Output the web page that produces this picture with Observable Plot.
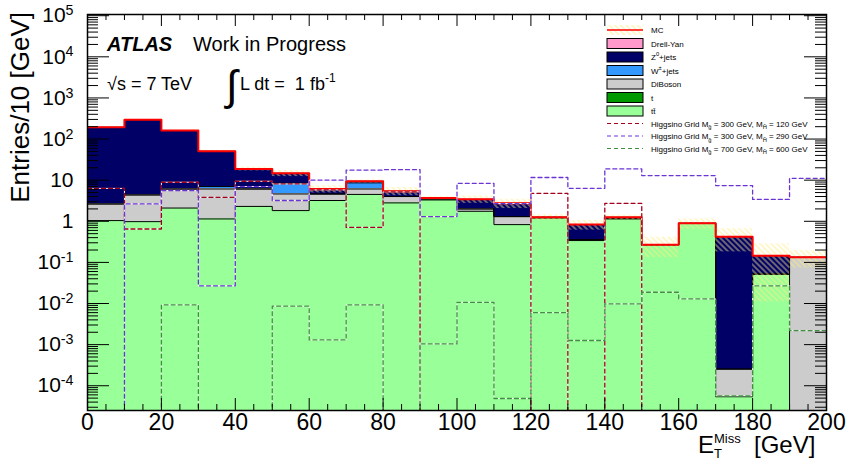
<!DOCTYPE html>
<html>
<head>
<meta charset="utf-8">
<script src="https://cdn.jsdelivr.net/npm/d3@7"></script>
<script src="https://cdn.jsdelivr.net/npm/@observablehq/plot@0.6"></script>
<style>
html, body { margin: 0; padding: 0; background: #fff; }
#chart { width: 846px; height: 462px; }
</style>
</head>
<body>
<div id="chart"></div>
<script>
// ---------------- data ----------------
const binLow = [0, 10, 20, 30, 40, 50, 60, 70, 80, 90, 100, 110, 120, 130, 140, 150, 160, 170, 180, 190];
const binWidth = 10;

// stacked backgrounds (Entries / 10 GeV)
const ttbar     = [1.04, 0.98, 2.1, 1.14, 2.3, 1.82, 3.2, 4.5, 2.8, 3.3, 1.75, 0.83, 1.2, 0.34, 1.14, 0.27, 0.89, 5.4e-5, 0.052, 0];
const singleTop = [0, 0, 0, 0, 0, 0, 0, 0, 0, 0, 0, 0, 0, 0, 0, 0, 0, 0, 0, 0];
const diboson   = [1.6, 3.4, 4.0, 4.96, 3.8, 2.8, 1.4, 1.6, 1.2, 0.2, 0.25, 0.47, 0.05, 0.02, 0.05, 0, 0, 2.0e-4, 0, 0.133];
const wjets     = [0, 0, 0, 0.9, 0, 3.8, 0, 2.5, 0, 0, 0, 0, 0, 0, 0, 0, 0, 0, 0, 0];
const zjets     = [191, 289, 155, 43.5, 12.7, 6.3, 1.5, 0.8, 1.4, 0.2, 1.43, 1.44, 0, 0.47, 0.06, 0, 0, 0.42, 0.094, 0];
const drellYan  = [0, 0, 0, 0, 0, 0, 0, 0, 0, 0, 0, 0, 0, 0, 0, 0, 0, 0, 0, 0];
const mcError   = [5, 8, 6, 3, 2, 2.5, 1.2, 0.8, 1.2, 0.3, 0.7, 0.7, 0.2, 0.22, 0.15, 0.14, 0.25, 0.24, 0.135, 0.06];

// signal samples (Higgsino grid)
const sig300_120 = [6.3, 0.65, 8.9, 3.8, 9.4, 8.1, 5.8, 0.71, 5.2, 0, 0, 0, 4.8, 0, 2.74, 0, 0, 0, 0, 0];
const sig300_290 = [0, 2.65, 5.6, 0.027, 7.0, 3.2, 10.0, 17.5, 18.0, 1.3, 8.4, 2.7, 11.6, 6.35, 18.8, 12.9, 12.9, 7.4, 3.4, 11.1];
const sig700_600 = [0, 0, 0.0093, 0, 0, 0.0086, 0.0013, 0.0093, 0, 0.00104, 0.0107, 4.9e-5, 0.006, 0.00126, 0.0098, 0.0188, 0.013, 5.7e-5, 0.027, 0.0022];

// axis ticks
const xTickValues = [0, 20, 40, 60, 80, 100, 120, 140, 160, 180, 200];
const xMinorTicks = [5, 10, 15, 25, 30, 35, 45, 50, 55, 65, 70, 75, 85, 90, 95, 105, 110, 115, 125, 130, 135, 145, 150, 155, 165, 170, 175, 185, 190, 195];
const yTickValues = [1e-4, 1e-3, 1e-2, 1e-1, 1, 10, 1e2, 1e3, 1e4, 1e5];
const yTickLabels = ["10^-4", "10^-3", "10^-2", "10^-1", "1", "10", "10^2", "10^3", "10^4", "10^5"];
const yMinorMultipliers = [2, 3, 4, 5, 6, 7, 8, 9];

// ---------------- layout / style ----------------
const W = 846, H = 462;
const mL = 87, mR = 20, mT = 14, mB = 52;
const FW = W - mL - mR, FH = H - mT - mB;
const yDomain = [2.5e-5, 1.07e5];
const FLOOR = 1e-8;
const FONT = "'Liberation Sans', Arial, Helvetica, sans-serif";
const HATCH_KEY = "#fffff0";

const colors = {
  ttbar: "#99ff99", t: "#009900", diboson: "#cccccc", w: "#3399ff", z: "#000066", dy: "#ff99cc",
  mc: "#ff0000", sigA: "#a3001e", sigB: "#6b35d6", sigC: "#3f8f3f"
};

function steps(vals) {
  const pts = binLow.map((x, i) => ({x, y: vals[i] > 0 ? vals[i] : FLOOR}));
  pts.push({x: binLow[binLow.length - 1] + binWidth, y: pts[pts.length - 1].y});
  return pts;
}

const components = [
  {vals: ttbar, fill: colors.ttbar},
  {vals: singleTop, fill: colors.t},
  {vals: diboson, fill: colors.diboson},
  {vals: wjets, fill: colors.w},
  {vals: zjets, fill: colors.z},
  {vals: drellYan, fill: colors.dy}
];

let cum = binLow.map(() => 0);
const stackMarks = [], outlineMarks = [];
for (const c of components) {
  const rows = [], tops = [];
  binLow.forEach((x, i) => {
    const lo = cum[i], hi = cum[i] + c.vals[i];
    if (c.vals[i] > 0) rows.push({x1: x, x2: x + binWidth, y1: lo > 0 ? lo : FLOOR, y2: hi});
    tops.push(hi);
    cum[i] = hi;
  });
  stackMarks.push(Plot.rect(rows, {x1: "x1", x2: "x2", y1: "y1", y2: "y2", fill: c.fill, clip: true, shapeRendering: "crispEdges"}));
  if (c.vals.some(v => v > 0)) {
    outlineMarks.push(Plot.line(steps(tops), {x: "x", y: "y", curve: "step-after", stroke: "black", strokeWidth: 1, clip: true}));
  }
}
const total = cum.slice();
const bandRows = binLow.map((x, i) => ({
  x1: x, x2: x + binWidth,
  y1: Math.max(total[i] - mcError[i], FLOOR),
  y2: total[i] + mcError[i]
}));

const yMinorTicks = [];
for (let k = -5; k <= 5; k++) for (const m of yMinorMultipliers) {
  const v = m * Math.pow(10, k);
  if (v > yDomain[0] && v < yDomain[1]) yMinorTicks.push(v);
}

function signalMarks(vals, color) {
  return [
    Plot.line(steps(vals), {x: "x", y: "y", curve: "step-after", stroke: "white", strokeWidth: 1, clip: true}),
    Plot.line(steps(vals), {x: "x", y: "y", curve: "step-after", stroke: color, strokeWidth: 1.3, strokeDasharray: "4,3", clip: true})
  ];
}

const plot = Plot.plot({
  width: W, height: H,
  marginLeft: mL, marginRight: mR, marginTop: mT, marginBottom: mB,
  style: {fontFamily: FONT, background: "white", color: "black", overflow: "visible"},
  x: {domain: [0, 200]},
  y: {type: "log", domain: yDomain},
  marks: [
    ...stackMarks,
    ...outlineMarks,
    Plot.rect(bandRows, {x1: "x1", x2: "x2", y1: "y1", y2: "y2", fill: HATCH_KEY, clip: true}),
    Plot.line(steps(total), {x: "x", y: "y", curve: "step-after", stroke: colors.mc, strokeWidth: 2, clip: true}),
    ...signalMarks(sig300_120, colors.sigA),
    ...signalMarks(sig300_290, colors.sigB),
    ...signalMarks(sig700_600, colors.sigC),
    // ROOT-style inward ticks
    Plot.ruleX(xTickValues, {insetTop: FH - 12, stroke: "black", strokeWidth: 1}),
    Plot.ruleX(xMinorTicks, {insetTop: FH - 6, stroke: "black", strokeWidth: 1}),
    Plot.ruleX(xTickValues, {insetBottom: FH - 12, stroke: "black", strokeWidth: 1}),
    Plot.ruleX(xMinorTicks, {insetBottom: FH - 6, stroke: "black", strokeWidth: 1}),
    Plot.ruleY(yTickValues, {insetRight: FW - 22, stroke: "black", strokeWidth: 1}),
    Plot.ruleY(yMinorTicks, {insetRight: FW - 11, stroke: "black", strokeWidth: 1}),
    Plot.ruleY(yTickValues, {insetLeft: FW - 22, stroke: "black", strokeWidth: 1}),
    Plot.ruleY(yMinorTicks, {insetLeft: FW - 11, stroke: "black", strokeWidth: 1}),
    Plot.frame({stroke: "black", strokeWidth: 1.5}),
    Plot.axisX(xTickValues, {tickSize: 0, tickPadding: 3, fontSize: 23, label: null}),
    Plot.axisY(yTickValues, {tickSize: 0, tickPadding: 14, fontSize: 21, label: null,
      tickFormat: v => yTickLabels[yTickValues.indexOf(v)]})
  ]
});

document.getElementById("chart").appendChild(plot);

// ---------------- post-processing ----------------
const svg = d3.select(plot);

// hatch pattern for MC uncertainty band
const defs = svg.insert("defs", ":first-child");
const pat = defs.append("pattern").attr("id", "mcHatch").attr("patternUnits", "userSpaceOnUse")
  .attr("width", 4).attr("height", 4).attr("patternTransform", "rotate(-45)");
pat.append("line").attr("x1", 1).attr("y1", 0).attr("x2", 1).attr("y2", 4)
  .attr("stroke", "#ffec80").attr("stroke-width", 1).attr("stroke-opacity", 0.85);
svg.selectAll(`[fill="${HATCH_KEY}"]`).attr("fill", "url(#mcHatch)");

// superscript y tick labels
svg.selectAll('[aria-label="y-axis tick label"] text').each(function () {
  const el = d3.select(this);
  const t = this.textContent;
  const m = /^10\^(-?\d+)$/.exec(t);
  if (m) {
    el.text(null);
    el.append("tspan").text("10");
    el.append("tspan").attr("dy", "-0.5em").attr("font-size", "0.68em").text(m[1]);
  }
});

// helper for rich text
function rich(parent, x, y, segs, opts = {}) {
  const base = opts.size || 8;
  const t = parent.append("text").attr("x", x).attr("y", y)
    .attr("font-family", FONT).attr("font-size", base)
    .attr("fill", "black").attr("text-anchor", opts.anchor || "start");
  let shift = 0;
  for (const s of segs) {
    const sp = t.append("tspan").text(s.t);
    const target = s.sup ? -0.45 : s.sub ? 0.35 : 0;
    const fs = (s.sup || s.sub) ? base * 0.72 : base;
    sp.attr("font-size", fs);
    const dyPx = target * base - shift;
    if (dyPx !== 0) sp.attr("dy", dyPx);
    shift = target * base;
  }
  return t;
}

const ann = svg.append("g").attr("class", "annotations").attr("text-anchor", "start");

// axis titles
ann.append("text").attr("transform", "translate(29,12) rotate(-90)").attr("text-anchor", "end")
  .attr("font-family", FONT).attr("font-size", 26).text("Entries/10 [GeV]");

const xt = ann.append("text").attr("x", 698).attr("y", 453).attr("font-family", FONT)
  .attr("font-size", 24).attr("text-anchor", "start");
xt.append("tspan").text("E");
xt.append("tspan").attr("font-size", 13).attr("dy", -10).text("Miss");
xt.append("tspan").attr("font-size", 13).attr("x", 714).attr("dy", 15).text("T");
xt.append("tspan").attr("x", 754).attr("dy", -5).text("[GeV]");

// ATLAS label
const at = ann.append("text").attr("x", 107).attr("y", 51).attr("font-family", FONT)
  .attr("font-size", 20).attr("text-anchor", "start");
at.append("tspan").attr("font-weight", "bold").attr("font-style", "italic").text("ATLAS");
at.append("tspan").attr("x", 193).text("Work in Progress");

ann.append("text").attr("x", 107).attr("y", 90).attr("font-family", FONT).attr("font-size", 18)
  .attr("text-anchor", "start").text("\u221As = 7 TeV");
ann.append("text").attr("x", 226).attr("y", 100).attr("font-family", FONT).attr("font-size", 42)
  .attr("text-anchor", "start").text("\u222B");
const lum = ann.append("text").attr("x", 240).attr("y", 90).attr("font-family", FONT)
  .attr("font-size", 18).attr("text-anchor", "start");
lum.append("tspan").text("L dt =  1 fb");
lum.append("tspan").attr("font-size", 12).attr("dy", -8).text("-1");

// legend
const lg = svg.append("g").attr("class", "legend").attr("text-anchor", "start");
const symX = 607, symW = 36, textX = 651;
const legendRows = [
  {y: 30, kind: "mc", segs: [{t: "MC"}]},
  {y: 43.5, kind: "box", fill: colors.dy, segs: [{t: "Drell-Yan"}]},
  {y: 57, kind: "box", fill: colors.z, segs: [{t: "Z"}, {t: "0", sup: true}, {t: "+jets"}]},
  {y: 70.5, kind: "box", fill: colors.w, segs: [{t: "W"}, {t: "\u00B1", sup: true}, {t: "+jets"}]},
  {y: 84, kind: "box", fill: colors.diboson, segs: [{t: "DiBoson"}]},
  {y: 97.5, kind: "box", fill: colors.t, segs: [{t: "t"}]},
  {y: 111, kind: "box", fill: colors.ttbar, segs: [{t: "tt\u0304"}]},
  {y: 123.5, kind: "line", stroke: colors.sigA, segs: [{t: "Higgsino Grid M"}, {t: "g\u0303", sub: true}, {t: " = 300 GeV, M"}, {t: "H\u0303", sub: true}, {t: " = 120 GeV"}]},
  {y: 136, kind: "line", stroke: colors.sigB, segs: [{t: "Higgsino Grid M"}, {t: "g\u0303", sub: true}, {t: " = 300 GeV, M"}, {t: "H\u0303", sub: true}, {t: " = 290 GeV"}]},
  {y: 148.5, kind: "line", stroke: colors.sigC, segs: [{t: "Higgsino Grid M"}, {t: "g\u0303", sub: true}, {t: " = 700 GeV, M"}, {t: "H\u0303", sub: true}, {t: " = 600 GeV"}]}
];
for (const r of legendRows) {
  if (r.kind === "box") {
    lg.append("rect").attr("x", symX).attr("y", r.y - 5).attr("width", symW).attr("height", 10)
      .attr("fill", r.fill).attr("stroke", "black").attr("stroke-width", 1);
  } else if (r.kind === "mc") {
    lg.append("rect").attr("x", symX).attr("y", r.y - 5).attr("width", symW).attr("height", 10).attr("fill", "url(#mcHatch)");
    lg.append("line").attr("x1", symX).attr("x2", symX + symW).attr("y1", r.y).attr("y2", r.y)
      .attr("stroke", colors.mc).attr("stroke-width", 1.5);
  } else {
    lg.append("line").attr("x1", symX).attr("x2", symX + symW).attr("y1", r.y).attr("y2", r.y)
      .attr("stroke", r.stroke).attr("stroke-width", 1.2).attr("stroke-dasharray", "4,3");
  }
  rich(lg, textX, r.y + 3, r.segs, {size: 8});
}
</script>
</body>
</html>
